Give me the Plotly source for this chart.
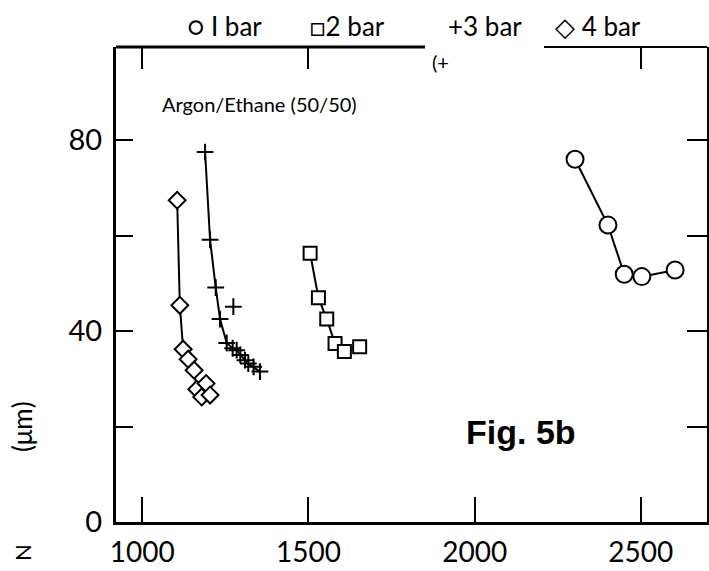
import plotly.graph_objects as go

# ---- data ----
bar1_x = [2302, 2401, 2450, 2503, 2603]
bar1_y = [76.0, 62.2, 51.9, 51.4, 52.8]

bar2_x = [1505, 1530, 1555, 1580, 1608, 1654]
bar2_y = [56.3, 47.0, 42.5, 37.4, 35.7, 36.7]

bar3_x = [1189, 1204, 1221, 1234, 1254, 1272, 1284, 1295, 1309, 1319, 1335, 1354]
bar3_y = [77.5, 59.1, 49.1, 42.5, 37.5, 36.4, 36.0, 35.0, 33.9, 33.2, 32.5, 31.5]
bar3_extra_x = [1274]
bar3_extra_y = [45.1]

bar4_x = [1105, 1113, 1123, 1138, 1156, 1164, 1179, 1192, 1204]
bar4_y = [67.4, 45.4, 36.2, 34.1, 31.8, 27.8, 26.2, 29.0, 26.6]

x_ticks = [1000, 1500, 2000, 2500]
x_top_ticks = [1000, 1500, 2500]
y_ticks = [0, 20, 40, 60, 80]
y_ticktext = ["0", "", "40", "", "80"]

FONT = "Lato"
fig = go.Figure()

def add_series(xs, ys, symbol, size, line=True):
    if line:
        fig.add_trace(go.Scatter(x=xs, y=ys, mode="lines",
                                 line=dict(color="black", width=2),
                                 showlegend=False, hoverinfo="skip"))
    fig.add_trace(go.Scatter(x=xs, y=ys, mode="markers",
                             marker=dict(symbol=symbol, size=size, color="white",
                                         line=dict(color="black", width=2)),
                             showlegend=False))

add_series(bar1_x, bar1_y, "circle", 17)
add_series(bar2_x, bar2_y, "square", 13)
add_series(bar4_x, bar4_y, "diamond", 13)
fig.add_trace(go.Scatter(x=bar3_x, y=bar3_y, mode="lines+markers",
                         line=dict(color="black", width=2),
                         marker=dict(symbol="cross-thin", size=12,
                                     line=dict(color="black", width=2)),
                         showlegend=False))
fig.add_trace(go.Scatter(x=bar3_extra_x, y=bar3_extra_y, mode="markers",
                         marker=dict(symbol="cross-thin", size=12,
                                     line=dict(color="black", width=2)),
                         showlegend=False))
# helper trace for mirror axes
fig.add_trace(go.Scatter(x=[None], y=[None], xaxis="x2", yaxis="y2",
                         showlegend=False, hoverinfo="skip"))

XR = [921, 2699]
YR = [0, 99.5]

fig.update_layout(
    width=709, height=571,
    margin=dict(l=116, r=2, t=47, b=49, autoexpand=False),
    paper_bgcolor="white", plot_bgcolor="white",
    font=dict(family=FONT, color="black"),
    xaxis=dict(range=XR, tickvals=x_ticks, ticks="inside", ticklen=25, tickwidth=2,
               tickcolor="black", showline=True, linewidth=2.5, linecolor="black",
               showgrid=False, zeroline=False, tickfont=dict(size=28, family=FONT),
               ticklabelstandoff=4, automargin=False),
    yaxis=dict(range=YR, tickvals=y_ticks, ticktext=y_ticktext, ticks="inside",
               ticklen=17, tickwidth=2, tickcolor="black", showline=True,
               linewidth=3, linecolor="black", showgrid=False, zeroline=False,
               tickfont=dict(size=29, family=FONT), ticklabelstandoff=5,
               automargin=False),
    xaxis2=dict(range=XR, overlaying="x", side="top", tickvals=x_top_ticks,
                ticks="inside", ticklen=22, tickwidth=2, tickcolor="black",
                showticklabels=False, showline=False, showgrid=False, zeroline=False,
                automargin=False),
    yaxis2=dict(range=YR, overlaying="y", side="right", tickvals=y_ticks,
                ticks="inside", ticklen=20, tickwidth=2, tickcolor="black",
                showticklabels=False, showline=True, linewidth=2.5, linecolor="black",
                showgrid=False, zeroline=False, automargin=False),
)

# broken top frame line
fig.add_shape(type="line", xref="paper", yref="paper", x0=0, x1=(425 - 116) / 591,
              y0=1, y1=1, line=dict(color="black", width=3))
fig.add_shape(type="line", xref="paper", yref="paper", x0=(544 - 116) / 591, x1=1,
              y0=1, y1=1, line=dict(color="black", width=2))

def px(xp):
    return (xp - 116) / 591

def py(yp):
    return (522 - yp) / 475

def txt(xp, yp, s, size, family=FONT, angle=0, xanchor="center"):
    fig.add_annotation(x=px(xp), y=py(yp), xref="paper", yref="paper", text=s,
                       showarrow=False, xanchor=xanchor, yanchor="middle",
                       textangle=angle,
                       font=dict(size=size, family=family, color="black"))

txt(185, 26, "○ I bar", 26, xanchor="left")
txt(308, 26, "□2 bar", 26, xanchor="left")
txt(446, 26, "+3 bar", 26, xanchor="left")
txt(553, 26, "◇ 4 bar", 26, xanchor="left")
txt(430, 62, "(+", 20, xanchor="left")

txt(160, 104, "Argon/Ethane (50/50)", 20, xanchor="left")
txt(521, 432, "<b>Fig. 5b</b>", 34, family="Liberation Sans")

txt(22, 427, "(μm)", 26, angle=-90)
txt(22, 553, "N", 22, angle=-90)

fig.write_html("out.html")
